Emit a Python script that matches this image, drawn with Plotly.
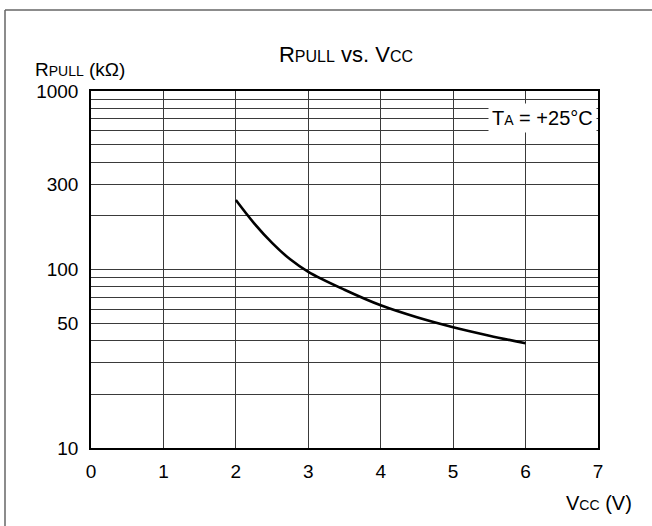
import plotly.graph_objects as go

# Data
vcc = [2.0, 2.25, 2.5, 2.75, 3.0, 3.5, 4.0, 4.5, 5.0, 5.5, 6.0]
rpull = [245, 182, 141, 114, 97, 77, 63, 54, 47.5, 42.6, 38.6]

x_ticks = [0, 1, 2, 3, 4, 5, 6, 7]
y_ticks = [10, 50, 100, 300, 1000]
y_minor = [20, 30, 40, 60, 70, 80, 90, 200, 400, 500, 600, 700, 800, 900]

FONT = "Liberation Sans, Arial, sans-serif"
GRID = "#3a3a3a"

fig = go.Figure()
fig.add_trace(go.Scatter(
    x=vcc, y=rpull, mode="lines",
    line=dict(color="black", width=2.6, shape="spline", smoothing=1.0),
    showlegend=False, hoverinfo="skip",
))

fig.update_layout(
    width=652, height=526,
    margin=dict(l=91, r=54, t=91, b=78),
    paper_bgcolor="white", plot_bgcolor="white",
    font=dict(family=FONT, size=19, color="black"),
    title=dict(
        text="R<span style='font-size:16px'>PULL</span> vs. V<span style='font-size:16px'>CC</span>",
        x=346 / 652, xanchor="center", y=1 - 54 / 526, yanchor="middle",
        font=dict(size=22),
    ),
    xaxis=dict(
        range=[0, 7], tickvals=x_ticks, ticktext=[str(v) for v in x_ticks],
        showgrid=True, gridcolor=GRID, gridwidth=1,
        showline=True, linecolor="black", linewidth=1.5, mirror=True,
        zeroline=False, ticks="", ticklabelstandoff=5,
        fixedrange=True,
    ),
    yaxis=dict(
        type="log", range=[1, 3], tickvals=y_ticks, ticktext=[str(v) for v in y_ticks],
        showgrid=True, gridcolor=GRID, gridwidth=1,
        minor=dict(tickvals=y_minor, showgrid=True, gridcolor=GRID, gridwidth=1, ticks=""),
        showline=True, linecolor="black", linewidth=1.5, mirror=True,
        zeroline=False, ticks="", ticklabelstandoff=7,
        fixedrange=True,
    ),
    shapes=[
        dict(type="line", xref="paper", yref="paper",
             x0=(5 - 91) / 507, x1=(5 - 91) / 507, y0=(448 - 10) / 357, y1=(448 - 540) / 357,
             line=dict(color="#666", width=1.5)),
        dict(type="line", xref="paper", yref="paper",
             x0=(5 - 91) / 507, x1=(670 - 91) / 507, y0=(448 - 10) / 357, y1=(448 - 10) / 357,
             line=dict(color="#666", width=1.5)),
    ],
    annotations=[
        dict(text="R<span style='font-size:14px'>PULL</span> (kΩ)",
             xref="paper", yref="paper", x=(33 - 91) / 507, y=(448 - 69) / 357,
             xanchor="left", yanchor="middle", showarrow=False, font=dict(size=19)),
        dict(text="V<span style='font-size:14px'>CC</span> (V)",
             xref="paper", yref="paper", x=(634 - 91) / 507, y=(448 - 503) / 357,
             xanchor="right", yanchor="middle", showarrow=False, font=dict(size=20)),
        dict(text="T<span style='font-size:14px'>A</span> = +25°C",
             xref="paper", yref="paper", x=1.0, y=(448 - 118) / 357,
             xanchor="right", yanchor="middle", xshift=-1, showarrow=False,
             bgcolor="white", borderpad=3, font=dict(size=20)),
    ],
)

fig.write_html("out.html", config={"displayModeBar": False},
               post_script="document.body.style.margin='0';")
